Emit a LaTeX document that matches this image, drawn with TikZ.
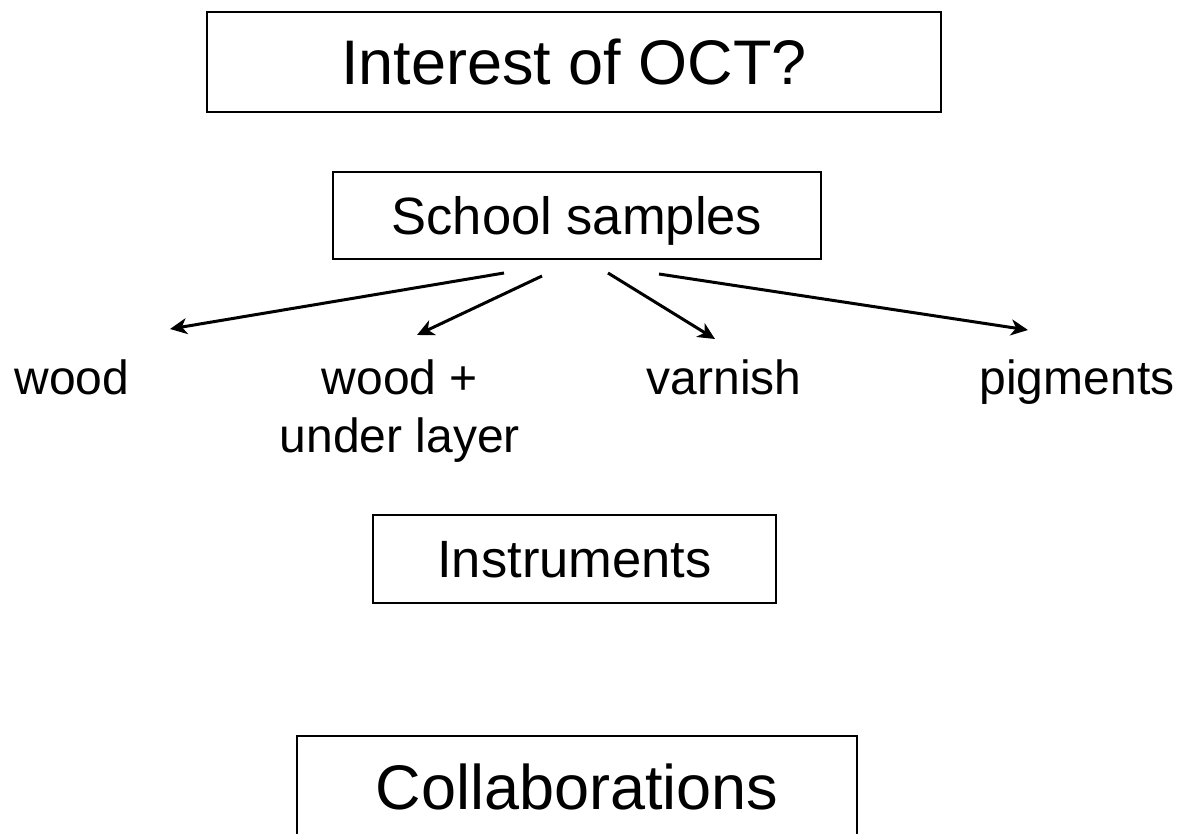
\documentclass[tikz,border=0pt]{standalone}
\usepackage{fontspec}
\setmainfont{Liberation Sans}
\usetikzlibrary{arrows.meta}
\begin{document}
\begin{tikzpicture}[x=1pt,y=-1pt,
  bigbox/.style={draw, line width=2.8pt, inner sep=0pt,
    font=\fontsize{63}{75}\selectfont, text height=45pt, text depth=0pt},
  midbox/.style={draw, line width=2.8pt, inner sep=0pt,
    font=\fontsize{52.5}{63}\selectfont, text height=37.6pt, text depth=0pt},
  leaf/.style={font=\fontsize{48}{58}\selectfont, align=center, inner sep=0pt, anchor=base},
  arr/.style={line width=3pt, -{Stealth[length=17pt,width=16pt,inset=5pt]}}]
\clip (0,0) rectangle (1180,833);
\fill[white] (0,0) rectangle (1180,833);
% boxes
\node[bigbox, minimum width=734pt, minimum height=100pt] (oct) at (574,62) {Interest of OCT?};
\node[midbox, minimum width=488pt, minimum height=87pt] (school) at (577,215.5) {School samples};
\node[midbox, minimum width=403pt, minimum height=88pt] (instr) at (574.5,559) {Instruments};
\node[bigbox, minimum width=560pt, minimum height=101pt] (collab) at (577,786.5) {Collaborations};
% leaves
\node[leaf] (wood) at (72,394) {wood};
\node[leaf] (under) at (400,452) {wood +\\under layer};
\node[leaf] (varnish) at (724,394) {varnish};
\node[leaf] (pigments) at (1077,394) {pigments};
% arrow ends
\coordinate (s1) at (504,273);
\coordinate (s2) at (542,276);
\coordinate (s3) at (608,273);
\coordinate (s4) at (659,274);
\coordinate (t1) at (170,329);
\coordinate (t2) at (417,335);
\coordinate (t3) at (715,339);
\coordinate (t4) at (1028,330);
\draw[arr] (s1) -- (t1);
\draw[arr] (s2) -- (t2);
\draw[arr] (s3) -- (t3);
\draw[arr] (s4) -- (t4);
\end{tikzpicture}
\end{document}
